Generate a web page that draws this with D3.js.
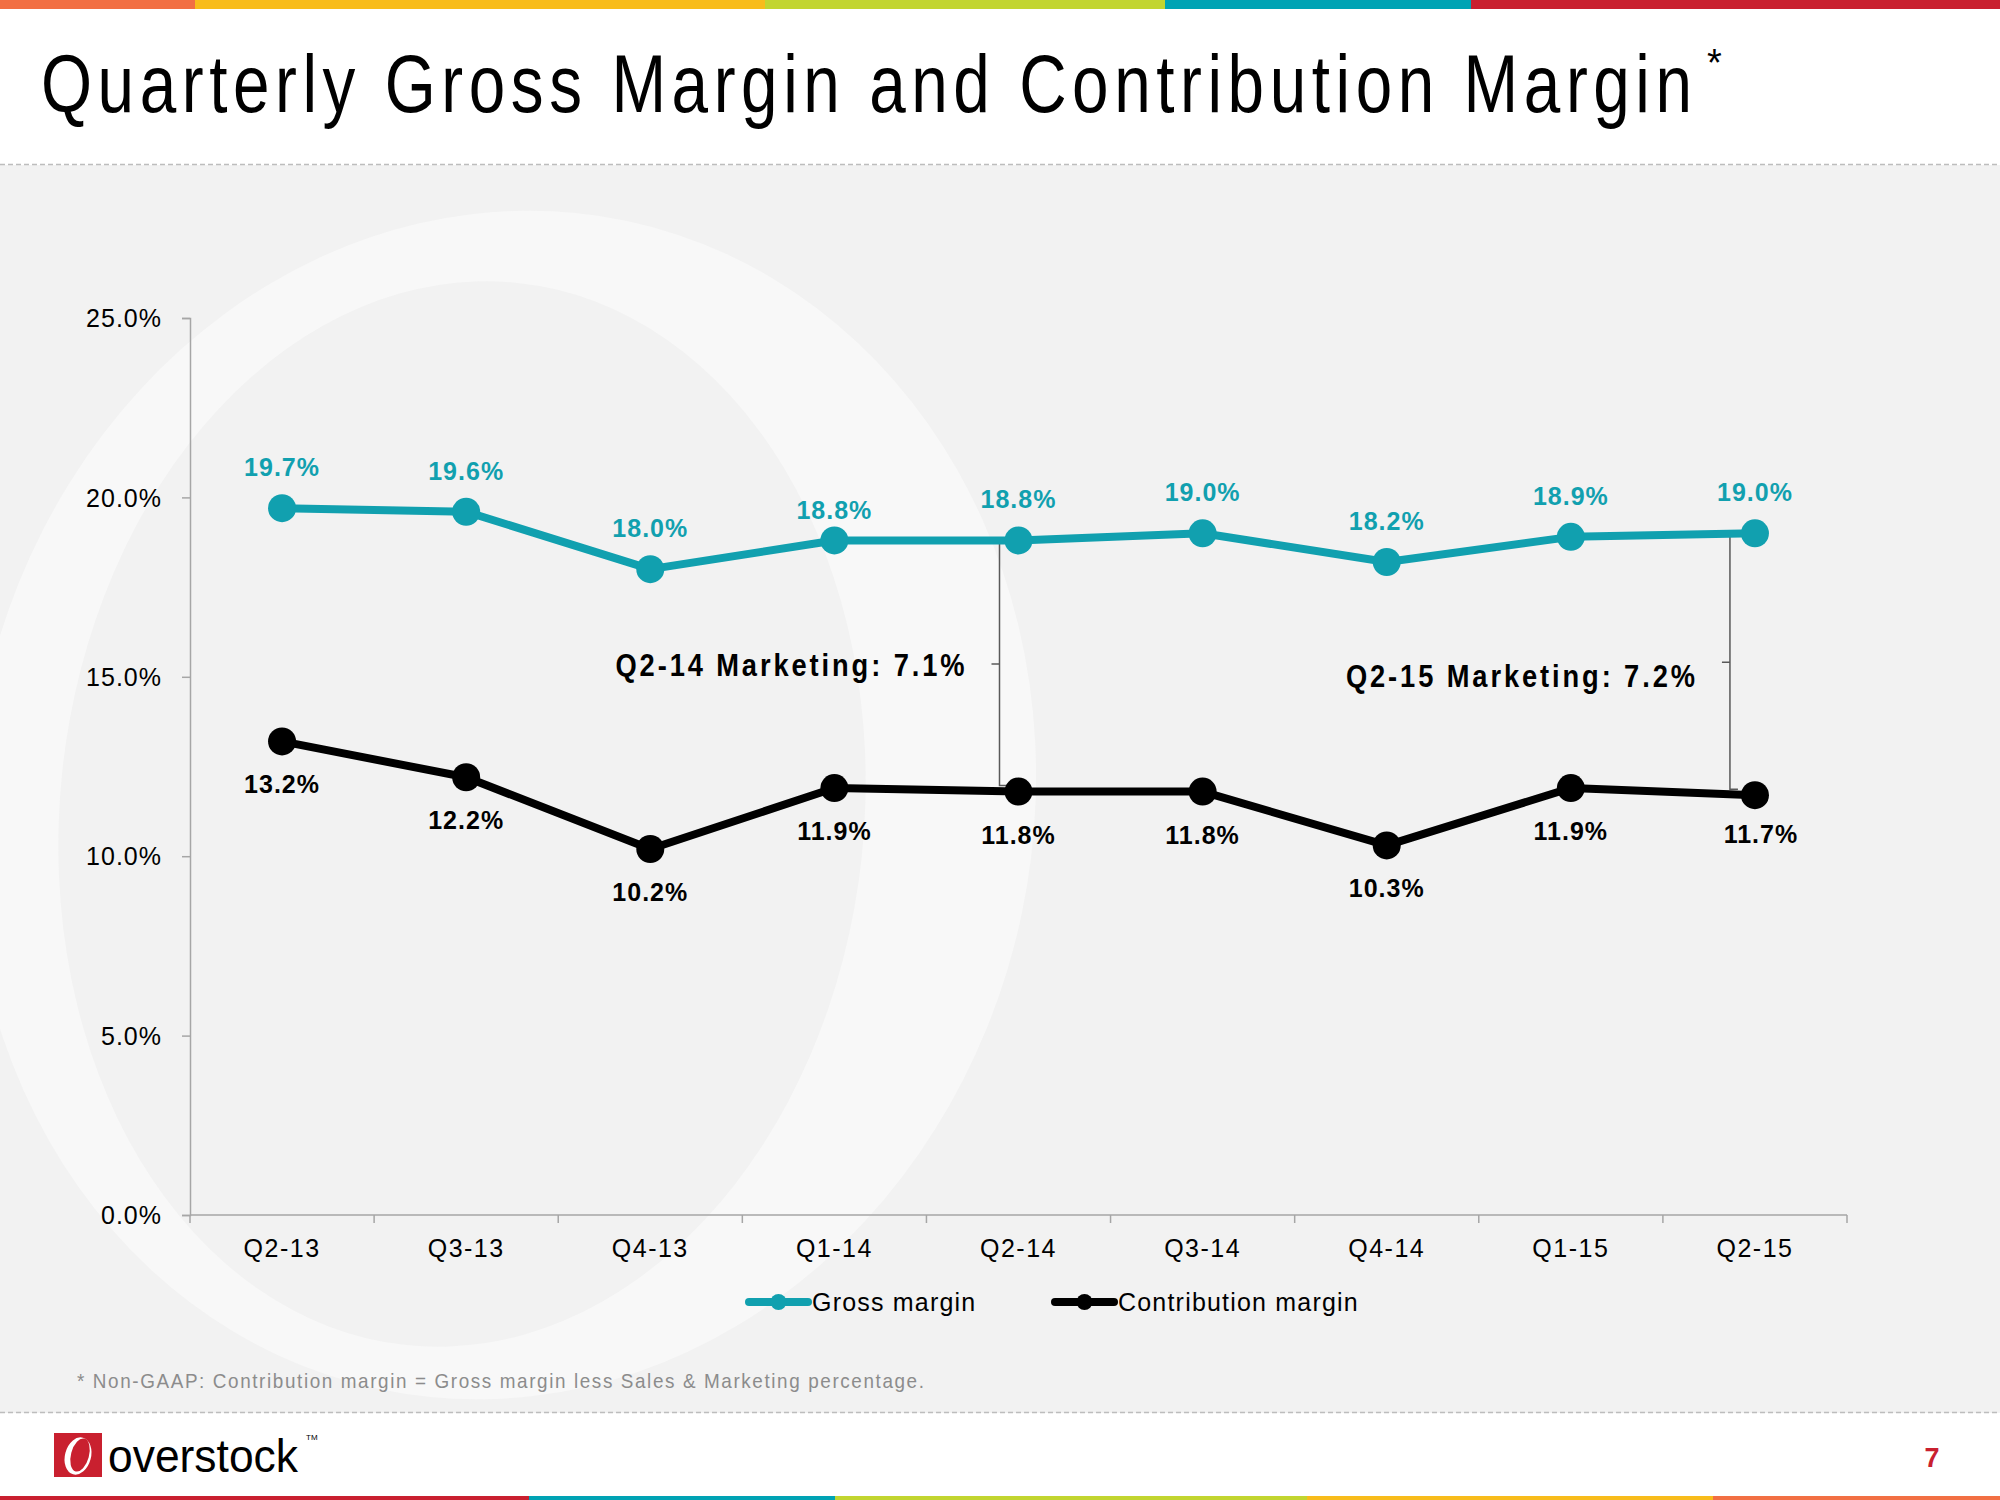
<!DOCTYPE html>
<html>
<head>
<meta charset="utf-8">
<script src="https://cdn.jsdelivr.net/npm/d3@7/dist/d3.min.js"></script>
<style>
  html, body { margin: 0; padding: 0; background: #fff; }
  svg { display: block; font-family: "Liberation Sans", Arial, sans-serif; }
</style>
</head>
<body>
<svg id="chart" width="2000" height="1500"></svg>
<script>
// ---- data ----
const categories = ["Q2-13", "Q3-13", "Q4-13", "Q1-14", "Q2-14", "Q3-14", "Q4-14", "Q1-15", "Q2-15"];
const grossMargin = [19.7, 19.6, 18.0, 18.8, 18.8, 19.0, 18.2, 18.9, 19.0];
const contributionMargin = [13.2, 12.2, 10.2, 11.9, 11.8, 11.8, 10.3, 11.9, 11.7];
const yTickValues = [0, 5, 10, 15, 20, 25];
const seriesNames = ["Gross margin", "Contribution margin"];
const annotationCats = ["Q2-14", "Q2-15"];
const annotationTexts = ["Q2-14 Marketing: 7.1%", "Q2-15 Marketing: 7.2%"];
const titleText = "Quarterly Gross Margin and Contribution Margin";
const footnoteText = "* Non-GAAP: Contribution margin = Gross margin less Sales & Marketing percentage.";

// ---- layout / style ----
const TEAL = "#11A0AF";
const svg = d3.select("#chart");

// page background bands
svg.append("rect").attr("x", 0).attr("y", 0).attr("width", 2000).attr("height", 1500).attr("fill", "#fff");
svg.append("rect").attr("x", 0).attr("y", 165).attr("width", 2000).attr("height", 1248).attr("fill", "#F2F2F2");

// watermark "O"
const wm = svg.append("g");
wm.append("clipPath").attr("id", "wmclip").append("rect")
  .attr("x", 0).attr("y", 166).attr("width", 2000).attr("height", 1246);
const wmg = wm.append("g").attr("clip-path", "url(#wmclip)");
wmg.append("ellipse").attr("cx", 503).attr("cy", 805).attr("rx", 530).attr("ry", 597)
  .attr("transform", "rotate(12 503 805)").attr("fill", "#F8F8F8");
wmg.append("ellipse").attr("cx", 462).attr("cy", 814).attr("rx", 402).attr("ry", 534)
  .attr("transform", "rotate(6 462 814)").attr("fill", "#F2F2F2");

// top colour bar
const topBar = [[0, 195, "#F26F43"], [195, 765, "#F8BC1B"], [765, 1165, "#C2D530"], [1165, 1471, "#00A3B4"], [1471, 2000, "#C9202F"]];
svg.selectAll("rect.topbar").data(topBar).enter().append("rect")
  .attr("x", d => d[0]).attr("y", 0).attr("width", d => d[1] - d[0]).attr("height", 9).attr("fill", d => d[2]);
const botBar = [[0, 529, "#C9202F"], [529, 835, "#00A3B4"], [835, 1307, "#C2D530"], [1307, 1713, "#F8BC1B"], [1713, 2000, "#F26F43"]];
svg.selectAll("rect.botbar").data(botBar).enter().append("rect")
  .attr("x", d => d[0]).attr("y", 1496).attr("width", d => d[1] - d[0]).attr("height", 4).attr("fill", d => d[2]);

// dashed separators
[164.5, 1412.5].forEach(yy => {
  svg.append("line").attr("x1", 0).attr("x2", 2000).attr("y1", yy).attr("y2", yy)
    .attr("stroke", "#BDBDBD").attr("stroke-width", 1.5).attr("stroke-dasharray", "5,3");
});

// title (condensed glyphs, wide tracking)
const titleSX = 0.8;
svg.append("text").attr("transform", `translate(41,112) scale(${titleSX},1)`)
  .attr("font-family", "'Liberation Sans Narrow', 'Arial Narrow', 'Liberation Sans', Arial, sans-serif")
  .attr("font-size", 82).attr("fill", "#000")
  .attr("textLength", 1651 / titleSX).attr("lengthAdjust", "spacing")
  .text(titleText);
svg.append("text").attr("x", 1707).attr("y", 76).attr("font-size", 38).attr("fill", "#000").text("*");

// ---- scales ----
const x = d3.scaleBand().domain(categories).range([190, 1847]).padding(0);
const y = d3.scaleLinear().domain([0, 25]).range([1215, 318]);
const cx = c => x(c) + x.bandwidth() / 2;

// y axis
const yAxis = svg.append("g").attr("transform", "translate(190,0)")
  .call(d3.axisLeft(y).tickValues(yTickValues).tickSize(8).tickPadding(20)
    .tickFormat(d => d.toFixed(1) + "%"));
yAxis.select(".domain").attr("stroke", "#A6A6A6").attr("stroke-width", 1.5);
yAxis.selectAll(".tick line").attr("stroke", "#A6A6A6").attr("stroke-width", 1.5);
yAxis.selectAll(".tick text").attr("font-size", 25).attr("fill", "#000")
  .attr("font-family", "'Liberation Sans', Arial, sans-serif")
  .style("letter-spacing", "1px").attr("dy", "0.35em");

// x axis (labels at band centres, ticks at band edges)
const xAxis = svg.append("g").attr("transform", "translate(0,1215)")
  .call(d3.axisBottom(x).tickSize(0).tickPadding(24));
xAxis.select(".domain").remove();
xAxis.selectAll(".tick text").attr("font-size", 25).attr("fill", "#000")
  .attr("font-family", "'Liberation Sans', Arial, sans-serif")
  .style("letter-spacing", "1.5px");
svg.append("line").attr("x1", 190).attr("x2", 1847).attr("y1", 1215).attr("y2", 1215)
  .attr("stroke", "#A6A6A6").attr("stroke-width", 1.5);
const edges = categories.map(c => x(c)).concat([x(categories[categories.length - 1]) + x.bandwidth()]);
svg.selectAll("line.xedge").data(edges).enter().append("line")
  .attr("x1", d => d).attr("x2", d => d).attr("y1", 1215).attr("y2", 1223)
  .attr("stroke", "#A6A6A6").attr("stroke-width", 1.5);

// annotation brackets
const annSX = 0.88;
annotationCats.forEach((cat, i) => {
  const idx = categories.indexOf(cat);
  const bx = cx(cat) - (i === 0 ? 19 : 25);
  const y1 = y(grossMargin[idx]) + 2;
  const y2 = y(contributionMargin[idx]) - 6;
  const ym = (y1 + y2) / 2;
  svg.append("path")
    .attr("d", `M${bx + 8},${y1} L${bx},${y1} L${bx},${y2} L${bx + 8},${y2} M${bx},${ym} L${bx - 8},${ym}`)
    .attr("fill", "none").attr("stroke", "#595959").attr("stroke-width", 1.5);
  svg.append("text")
    .attr("transform", `translate(${bx - 384},${ym + 12 + (i === 0 ? 0 : 13)}) scale(${annSX},1)`)
    .attr("font-size", 31).attr("font-weight", "bold").attr("fill", "#000")
    .attr("textLength", 349 / annSX).attr("lengthAdjust", "spacing")
    .text(annotationTexts[i]);
});

// lines
const line = d3.line().x((d, i) => cx(categories[i])).y(d => y(d));
svg.append("path").datum(grossMargin).attr("d", line)
  .attr("fill", "none").attr("stroke", TEAL).attr("stroke-width", 8).attr("stroke-linejoin", "round");
svg.append("path").datum(contributionMargin).attr("d", line)
  .attr("fill", "none").attr("stroke", "#000").attr("stroke-width", 8).attr("stroke-linejoin", "round");

svg.selectAll("circle.gm").data(grossMargin).enter().append("circle")
  .attr("cx", (d, i) => cx(categories[i])).attr("cy", d => y(d)).attr("r", 14).attr("fill", TEAL);
svg.selectAll("circle.cm").data(contributionMargin).enter().append("circle")
  .attr("cx", (d, i) => cx(categories[i])).attr("cy", d => y(d)).attr("r", 14).attr("fill", "#000");

// data labels
const gmNudgeY = [0, 0, 0, 11, 0, 0, 0, 0, 0];
const cmNudgeX = [0, 0, 0, 0, 0, 0, 0, 0, 6];
const cmNudgeY = [0, 0, 0, 0, 0, 0, 0, 0, -4];
svg.selectAll("text.gml").data(grossMargin).enter().append("text")
  .attr("x", (d, i) => cx(categories[i])).attr("y", (d, i) => y(d) - 32 + gmNudgeY[i])
  .attr("text-anchor", "middle").attr("font-size", 25).attr("font-weight", "bold").attr("fill", TEAL)
  .style("letter-spacing", "1px")
  .text(d => d.toFixed(1) + "%");
svg.selectAll("text.cml").data(contributionMargin).enter().append("text")
  .attr("x", (d, i) => cx(categories[i]) + cmNudgeX[i]).attr("y", (d, i) => y(d) + 52 + cmNudgeY[i])
  .attr("text-anchor", "middle").attr("font-size", 25).attr("font-weight", "bold").attr("fill", "#000")
  .style("letter-spacing", "1px")
  .text(d => d.toFixed(1) + "%");

// legend
const legendItems = [
  { name: seriesNames[0], color: TEAL, x0: 749 },
  { name: seriesNames[1], color: "#000", x0: 1055 }
];
legendItems.forEach(it => {
  const g = svg.append("g");
  g.append("line").attr("x1", it.x0).attr("x2", it.x0 + 59).attr("y1", 1302).attr("y2", 1302)
    .attr("stroke", it.color).attr("stroke-width", 8).attr("stroke-linecap", "round");
  g.append("circle").attr("cx", it.x0 + 29.5).attr("cy", 1302).attr("r", 8).attr("fill", it.color);
  g.append("text").attr("x", it.x0 + 63).attr("y", 1311).attr("font-size", 25).attr("fill", "#000")
    .style("letter-spacing", "1.2px").text(it.name);
});

// footnote
const fnSX = 0.9;
svg.append("text").attr("transform", `translate(77,1388) scale(${fnSX},1)`)
  .attr("font-size", 21).attr("fill", "#8C8C8C")
  .attr("textLength", 847 / fnSX).attr("lengthAdjust", "spacing")
  .text(footnoteText);

// logo
const logo = svg.append("g");
logo.append("rect").attr("x", 54).attr("y", 1433).attr("width", 48).attr("height", 44).attr("fill", "#C9202F");
logo.append("ellipse").attr("cx", 78).attr("cy", 1456).attr("rx", 13).attr("ry", 19)
  .attr("transform", "rotate(15 78 1456)").attr("fill", "#fff");
logo.append("ellipse").attr("cx", 80).attr("cy", 1455).attr("rx", 9).attr("ry", 17)
  .attr("transform", "rotate(15 80 1455)").attr("fill", "#C9202F");
logo.append("text").attr("x", 108).attr("y", 1472).attr("font-size", 47).attr("fill", "#000")
  .attr("textLength", 190).attr("lengthAdjust", "spacingAndGlyphs").text("overstock");
logo.append("text").attr("x", 306).attr("y", 1440).attr("font-size", 8).attr("fill", "#000").text("TM");

// page number
svg.append("text").attr("x", 1932).attr("y", 1467).attr("text-anchor", "middle")
  .attr("font-size", 27).attr("font-weight", "bold").attr("fill", "#C9202F").text("7");
</script>
</body>
</html>
